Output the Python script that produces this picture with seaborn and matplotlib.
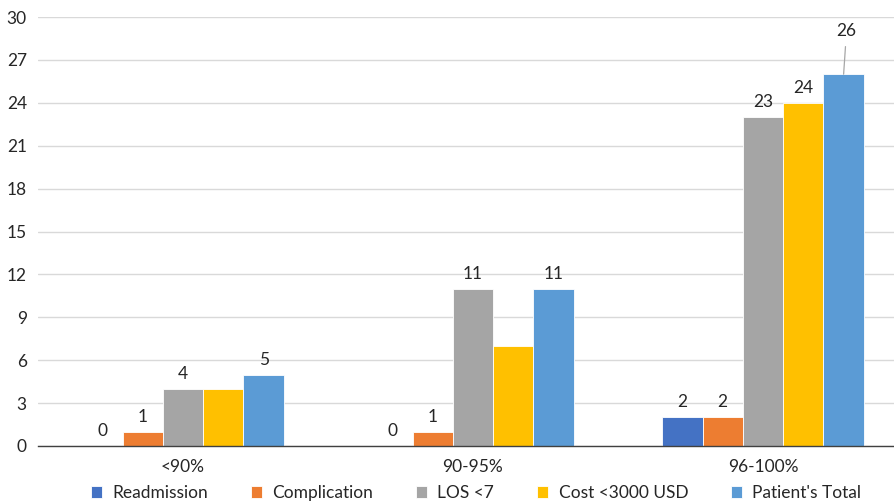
import matplotlib
matplotlib.use("Agg")
import matplotlib.pyplot as plt
import seaborn as sns
import pandas as pd

categories = ["<90%", "90-95%", "96-100%"]
series = ["Readmission", "Complication", "LOS <7", "Cost <3000 USD", "Patient's Total"]
readmission = [0, 0, 2]
complication = [1, 1, 2]
los_under_7 = [4, 11, 23]
cost_under_3000 = [4, 7, 24]
patients_total = [5, 11, 26]
colors = ["#4472C4", "#ED7D31", "#A5A5A5", "#FFC000", "#5B9BD5"]
yticks = [0, 3, 6, 9, 12, 15, 18, 21, 24, 27, 30]

# which data labels are shown, per series and category
show_label = {
    "Readmission": [True, True, True],
    "Complication": [True, True, True],
    "LOS <7": [True, True, True],
    "Cost <3000 USD": [False, False, True],
    "Patient's Total": [True, True, False],
}

values = [readmission, complication, los_under_7, cost_under_3000, patients_total]
rows = []
for name, vals in zip(series, values):
    for cat, v in zip(categories, vals):
        rows.append({"Category": cat, "Series": name, "Count": v})
df = pd.DataFrame(rows)

sns.set_theme(style="white")
plt.rcParams["font.family"] = ["Lato", "DejaVu Sans"]
text_color = "#262626"

fig = plt.figure(figsize=(8.95, 5.03), dpi=100)
ax = fig.add_axes([38 / 895, 57 / 503, 870 / 895, 429 / 503])

sns.barplot(data=df, x="Category", y="Count", hue="Series", order=categories,
            hue_order=series, palette=colors, width=0.695, saturation=1,
            edgecolor="white", linewidth=0.6, ax=ax, legend=True)

for name, vals, container in zip(series, values, ax.containers):
    labels = [f"{v}" if s else "" for v, s in zip(vals, show_label[name])]
    ax.bar_label(container, labels=labels, padding=5, fontsize=12.5, color=text_color)

# the tallest bar's label sits higher with a leader line
last = ax.containers[-1][2]
cx = last.get_x() + last.get_width() / 2
top = last.get_height()
ax.annotate(f"{patients_total[2]}", xy=(cx, top), xytext=(cx + 0.01, top + 2.45),
            ha="center", va="bottom", fontsize=12.5, color=text_color,
            arrowprops=dict(arrowstyle="-", color="#A6A6A6", lw=0.9,
                            shrinkA=3, shrinkB=0))

ax.set_ylim(0, 30)
ax.set_yticks(yticks)
ax.set_xlim(-0.5, 2.5)
ax.set_xlabel("")
ax.set_ylabel("")
ax.yaxis.grid(True, color="#D9D9D9", linewidth=1)
ax.set_axisbelow(True)
for s in ["top", "right", "left"]:
    ax.spines[s].set_visible(False)
ax.spines["bottom"].set_color("#404040")
ax.spines["bottom"].set_linewidth(1)
ax.tick_params(axis="both", length=0, labelsize=12.5, labelcolor=text_color)
ax.tick_params(axis="x", pad=9)
ax.tick_params(axis="y", pad=8)

handles, labels = ax.get_legend_handles_labels()
ax.legend_.remove()
fig.legend(handles, labels, loc="center", bbox_to_anchor=(476 / 895, 1 - 493 / 503),
           ncol=5, frameon=False, fontsize=12.5, handlelength=0.65, handleheight=0.65,
           columnspacing=2.45, handletextpad=0.6, labelcolor=text_color)

fig.savefig("out.png", dpi=100)
